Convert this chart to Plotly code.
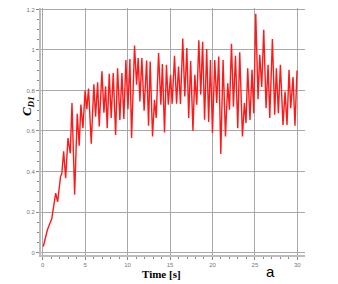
import plotly.graph_objects as go

time_s = [0.07, 0.3, 0.54, 0.8, 1.06, 1.3, 1.53, 1.76, 1.95, 2.1,
          2.25, 2.47, 2.7, 2.98, 3.25, 3.45, 3.76, 4.07, 4.3, 4.5,
          4.74, 5.0, 5.2, 5.4, 5.72, 6.03, 6.23, 6.47, 6.66, 6.98,
          7.21, 7.41, 7.6, 7.84, 8.07, 8.31, 8.59, 8.82, 9.09, 9.33,
          9.56, 9.8, 10.04, 10.27, 10.47, 10.82, 11.06, 11.25, 11.45, 11.68,
          11.95, 12.24, 12.47, 12.66, 12.94, 13.17, 13.37, 13.65, 13.92, 14.1,
          14.35, 14.58, 14.8, 15.06, 15.25, 15.53, 15.77, 16.0, 16.23, 16.5,
          16.74, 16.98, 17.2, 17.43, 17.7, 17.92, 18.15, 18.39, 18.62, 18.84,
          19.07, 19.32, 19.55, 19.76, 20.0, 20.27, 20.5, 20.74, 20.98, 21.25,
          21.53, 21.8, 22.0, 22.24, 22.47, 22.71, 22.98, 23.21, 23.53, 23.76,
          23.95, 24.15, 24.42, 24.66, 24.86, 25.1, 25.37, 25.57, 25.8, 26.04,
          26.31, 26.55, 26.75, 27.06, 27.33, 27.53, 27.76, 28.0, 28.31, 28.55,
          28.78, 29.02, 29.22, 29.49, 29.72, 29.96]

cd1 = [0.03, 0.07, 0.11, 0.14, 0.165, 0.23, 0.293, 0.25, 0.33, 0.375,
       0.39, 0.5, 0.367, 0.565, 0.49, 0.738, 0.285, 0.685, 0.527, 0.73,
       0.614, 0.8, 0.708, 0.81, 0.537, 0.83, 0.67, 0.84, 0.622, 0.895,
       0.69, 0.82, 0.614, 0.882, 0.664, 0.886, 0.58, 0.91, 0.655, 0.886,
       0.659, 0.95, 0.708, 0.955, 0.565, 1.022, 0.828, 0.96, 0.746, 0.96,
       0.7, 0.948, 0.626, 0.943, 0.573, 0.754, 0.664, 0.985, 0.73, 0.93,
       0.593, 0.927, 0.73, 0.877, 0.734, 0.971, 0.735, 0.918, 0.733, 1.056,
       0.77, 1.01, 0.664, 0.945, 0.6, 0.877, 0.73, 1.048, 0.78, 1.04,
       0.655, 1.005, 0.645, 0.95, 0.59, 0.95, 0.738, 0.968, 0.487, 0.95,
       0.573, 0.836, 0.705, 1.03, 0.72, 0.971, 0.614, 0.988, 0.573, 0.738,
       0.639, 0.91, 0.655, 0.902, 0.688, 1.179, 0.757, 0.976, 0.817, 1.1,
       0.713, 0.927, 0.664, 1.054, 0.68, 0.91, 0.688, 0.927, 0.63, 0.795,
       0.63, 0.902, 0.713, 0.866, 0.626, 0.899]

x_tick_vals = [0, 5, 10, 15, 20, 25, 30]
x_tick_text = ["0", "5", "10", "15", "20", "25", "30"]
y_tick_vals = [0, 0.2, 0.4, 0.6, 0.8, 1.0, 1.2]
y_tick_text = ["0", "0.2", "0.4", "0.6", "0.8", "1", "1.2"]

fig = go.Figure()
fig.add_trace(go.Scatter(x=time_s, y=cd1, mode="lines",
                         line=dict(color="#ff1a1a", width=1.4),
                         showlegend=False, hoverinfo="skip"))

grid = "#a8a8a8"
tickfont = dict(family="Arial", size=6, color="#777777")

fig.update_layout(
    width=338, height=284,
    margin=dict(l=41, r=33, t=8, b=29),
    paper_bgcolor="white", plot_bgcolor="white",
    xaxis=dict(range=[-0.2, 30.9], tickvals=x_tick_vals, ticktext=x_tick_text,
               showgrid=True, gridcolor=grid, gridwidth=1, zeroline=False,
               showline=True, linecolor="#bdbdbd", linewidth=2,
               ticks="outside", ticklen=3, tickcolor="#888888",
               minor=dict(dtick=1, ticks="outside", ticklen=2, tickcolor="#888888", showgrid=False),
               tickfont=tickfont),
    yaxis=dict(range=[-0.012, 1.207], tickvals=y_tick_vals, ticktext=y_tick_text,
               showgrid=True, gridcolor=grid, gridwidth=1, zeroline=False,
               showline=True, linecolor="#bdbdbd", linewidth=2,
               ticks="outside", ticklen=3, tickcolor="#888888",
               minor=dict(dtick=0.05, ticks="outside", ticklen=2, tickcolor="#888888", showgrid=False),
               tickfont=tickfont),
    annotations=[
        dict(text="<b>Time [s]</b>", xref="paper", yref="paper", x=0.458, y=-0.077,
             xanchor="center", yanchor="middle", showarrow=False,
             font=dict(family="Liberation Serif", size=11, color="black")),
        dict(text="<b><i>C</i><sub><i>D1</i></sub></b>", xref="paper", yref="paper",
             x=-0.053, y=0.603, xanchor="center", yanchor="middle", showarrow=False,
             textangle=-90, font=dict(family="Liberation Serif", size=13, color="black")),
        dict(text="a", xref="paper", yref="paper", x=0.871, y=-0.067,
             xanchor="center", yanchor="middle", showarrow=False,
             font=dict(family="Liberation Sans", size=15, color="black")),
    ],
)

fig.write_html("out.html", config={"displayModeBar": False},
               post_script="document.body.style.margin='0';document.body.style.padding='0';document.body.style.overflow='hidden';")
